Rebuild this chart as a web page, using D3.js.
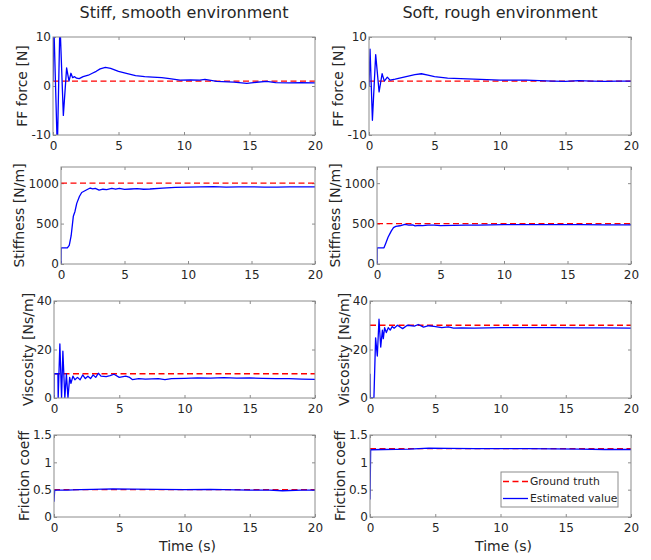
<!DOCTYPE html>
<html>
<head>
<meta charset="utf-8">
<script src="https://cdn.jsdelivr.net/npm/d3@7"></script>
<style>
body { margin: 0; background: #fff; }
text { font-family: "DejaVu Sans", sans-serif; fill: #262626; }
</style>
</head>
<body>
<script>
const width = 651;
const height = 560;

const titles = ['Stiff, smooth environment', 'Soft, rough environment'];
const ylabels = ['FF force [N]', 'Stiffness [N/m]', 'Viscosity [Ns/m]', 'Friction coeff'];
const xlabel = 'Time (s)';
const xDomain = [0, 20];
const xTicks = [0, 5, 10, 15, 20];
const yDomains = [[-10, 10], [0, 1200], [0, 40], [0, 1.5]];
const yTicks = [[-10, 0, 10], [0, 500, 1000], [0, 20, 40], [0, 0.5, 1, 1.5]];
const legendLabels = ['Ground truth', 'Estimated value'];

// ground truth, one per row
const truthStiff = [1, 1000, 10, 0.5];
const truthSoft = [1, 500, 30, 1.25];

// estimated values, [time, value]
const ffStiff = [[0, 1], [0.06, 13], [0.33, -13], [0.53, 13], [0.79, -6], [1.04, 3.7], [1.22, 1.0], [1.37, 2.6],
  [1.5, 1.7], [1.65, 1.9], [1.8, 1.6], [2.0, 1.5], [2.3, 1.9], [2.7, 2.2], [3.0, 2.6], [3.3, 3.0], [3.6, 3.5],
  [4.0, 3.8], [4.4, 3.6], [5.0, 3.0], [5.6, 2.6], [6.3, 2.1], [7.0, 1.9], [7.6, 1.8], [8.3, 1.7], [8.9, 1.5],
  [9.7, 1.2], [10.5, 1.25], [11.2, 1.2], [11.6, 1.35], [12.5, 0.95], [13.8, 0.8], [14.8, 0.55], [15.3, 0.7],
  [16.3, 0.95], [17.0, 0.7], [18.0, 0.65], [18.9, 0.7], [20, 0.65]];
const ffSoft = [[0, 0], [0.08, 7.5], [0.26, -7], [0.51, 6.4], [0.77, -1.2], [1.0, 2.5], [1.17, 1.0], [1.4, 1.8],
  [1.6, 1.2], [2.0, 1.4], [2.5, 1.7], [3.0, 2.0], [3.5, 2.3], [4.0, 2.5], [4.5, 2.2], [5.0, 1.9], [6.0, 1.6],
  [7.0, 1.5], [8.0, 1.4], [9.0, 1.3], [10, 1.2], [11, 1.2], [12, 1.2], [13, 1.1], [14, 1.0], [15, 0.95],
  [16, 1.1], [17, 1.0], [18, 0.95], [19, 1.0], [20, 1.0]];
const stiffStiff = [[0, 0], [0.01, 200], [0.5, 200], [0.65, 230], [0.8, 350], [0.97, 590], [1.1, 650], [1.24, 750],
  [1.45, 835], [1.63, 885], [2.03, 918], [2.3, 940], [2.5, 930], [2.7, 935], [3.0, 915], [3.3, 925], [3.6, 920],
  [4.0, 935], [4.3, 925], [4.6, 935], [5.0, 922], [5.5, 928], [6.0, 932], [6.5, 925], [7.0, 928], [8.0, 938],
  [9.0, 948], [10, 952], [11, 955], [12, 958], [13, 950], [14, 955], [15, 955], [16, 952], [17, 950],
  [18, 955], [19, 955], [20, 955]];
const stiffSoft = [[0, 0], [0.01, 200], [0.55, 200], [0.7, 260], [0.87, 330], [1.13, 410], [1.3, 450], [1.48, 465],
  [1.8, 473], [2.2, 490], [2.5, 482], [2.8, 485], [3.0, 472], [3.3, 478], [3.6, 475], [4.0, 480], [4.5, 482],
  [5.0, 475], [6.0, 478], [7.0, 480], [8.0, 482], [10, 486], [12, 488], [14, 487], [16, 486], [18, 484], [20, 484]];
const viscStiff = [[0, 0], [0.01, 10], [0.3, 10], [0.32, 0], [0.45, 22.3], [0.58, 0], [0.68, 19.3], [0.83, 0],
  [0.95, 10], [1.07, 0], [1.2, 8.5], [1.3, 6], [1.45, 9], [1.6, 7.5], [1.8, 8.5], [2.0, 7.5], [2.2, 9.5],
  [2.4, 8], [2.6, 9], [2.8, 8], [3.0, 9.5], [3.2, 8.5], [3.4, 10.2], [3.6, 9], [4.0, 8.8], [4.3, 9.2],
  [4.6, 9.8], [5.0, 8.5], [5.5, 9], [5.8, 8.5], [6.0, 7.6], [6.5, 8], [7.0, 7.8], [8.0, 8], [8.5, 7.6],
  [9.0, 8], [10, 8.1], [11, 8.3], [12, 8.2], [13, 8.4], [14, 8.2], [15, 8.3], [16, 8.1], [17, 8.0],
  [18, 8.0], [19, 7.8], [20, 7.7]];
const viscSoft = [[0, 10], [0.02, 0], [0.3, 0], [0.43, 24.8], [0.56, 17.3], [0.69, 32.5], [0.82, 21], [0.95, 28],
  [1.02, 24.5], [1.12, 29], [1.25, 27], [1.4, 29], [1.55, 28], [1.7, 29.5], [1.85, 28.8], [2.1, 30], [2.5, 28.6],
  [2.86, 30], [3.4, 29.6], [3.7, 30.3], [4.1, 29.2], [4.5, 29.8], [4.9, 29.5], [5.5, 29], [6.0, 29.3],
  [6.4, 28.8], [7, 28.9], [8, 28.8], [10, 29], [12, 29], [14, 29], [16, 28.9], [18, 28.9], [20, 28.8]];
const fricStiff = [[0, 0.28], [0.05, 0.49], [1, 0.49], [2, 0.5], [3, 0.505], [4.5, 0.515], [6, 0.51], [8, 0.505],
  [10, 0.5], [12, 0.505], [13, 0.5], [15, 0.49], [16.5, 0.49], [17.5, 0.48], [19, 0.49], [20, 0.49]];
const fricSoft = [[0, 0.32], [0.05, 1.23], [1, 1.235], [3, 1.24], [4.5, 1.26], [6, 1.255], [8, 1.25], [10, 1.25],
  [12, 1.25], [14, 1.245], [16, 1.24], [18, 1.235], [20, 1.235]];

const estimates = [[ffStiff, ffSoft], [stiffStiff, stiffSoft], [viscStiff, viscSoft], [fricStiff, fricSoft]];
const truths = [truthStiff, truthSoft];

// axes boxes
const colX = [[53, 315], [369, 631]];
const rowY = [[37, 135], [167, 264], [301, 398], [435, 517]];
const leftShift = [0, 8, 1, 1]; // wide tick labels push the box right

const boxColor = '#8c8c8c';

const svg = d3.select('body').append('svg').attr('width', width).attr('height', height);

const line = (x, y) => d3.line().x(d => x(d[0])).y(d => y(d[1]));

for (let c = 0; c < 2; c++) {
  for (let r = 0; r < 4; r++) {
    const left = colX[c][0] + leftShift[r];
    const right = colX[c][1];
    const top = rowY[r][0];
    const bottom = rowY[r][1];

    const x = d3.scaleLinear().domain(xDomain).range([left, right]);
    const y = d3.scaleLinear().domain(yDomains[r]).range([bottom, top]);

    const clipId = `clip-${c}-${r}`;
    svg.append('clipPath').attr('id', clipId)
      .append('rect').attr('x', left).attr('y', top).attr('width', right - left).attr('height', bottom - top);

    const g = svg.append('g');

    // ticks, inward on all four sides
    const styleAxis = ax => {
      ax.select('.domain').remove();
      ax.selectAll('.tick line').attr('stroke', boxColor);
      ax.selectAll('.tick text').attr('fill', '#262626').style('font-size', '12px').attr('font-family', null);
    };
    g.append('g').attr('transform', `translate(0,${bottom})`)
      .call(d3.axisBottom(x).tickValues(xTicks).tickSize(-3).tickPadding(6).tickFormat(d => String(d)))
      .call(styleAxis);
    g.append('g').attr('transform', `translate(0,${top})`)
      .call(d3.axisTop(x).tickValues(xTicks).tickSize(-3).tickFormat(''))
      .call(styleAxis);
    const yAx = g.append('g').attr('transform', `translate(${left},0)`)
      .call(d3.axisLeft(y).tickValues(yTicks[r]).tickSize(-3).tickPadding(2).tickFormat(d => String(d)))
      .call(styleAxis);
    g.append('g').attr('transform', `translate(${right},0)`)
      .call(d3.axisRight(y).tickValues(yTicks[r]).tickSize(-3).tickFormat(''))
      .call(styleAxis);

    // ground truth then estimate
    g.append('line')
      .attr('clip-path', `url(#${clipId})`)
      .attr('x1', x(xDomain[0])).attr('x2', x(xDomain[1]))
      .attr('y1', y(truths[c][r])).attr('y2', y(truths[c][r]))
      .attr('stroke', '#ff0000').attr('stroke-width', 1.3).attr('stroke-dasharray', '6,3.5');
    g.append('path')
      .datum(estimates[r][c])
      .attr('clip-path', `url(#${clipId})`)
      .attr('fill', 'none')
      .attr('stroke', '#0000ff')
      .attr('stroke-width', 1.3)
      .attr('stroke-linejoin', 'round')
      .attr('d', line(x, y));

    g.append('rect')
      .attr('x', left).attr('y', top).attr('width', right - left).attr('height', bottom - top)
      .attr('fill', 'none').attr('stroke', boxColor).attr('stroke-width', 1);

    // y label just left of the tick labels
    const bb = yAx.node().getBBox();
    g.append('text')
      .attr('transform', `translate(${left + bb.x - 4},${(top + bottom) / 2}) rotate(-90)`)
      .attr('text-anchor', 'middle')
      .style('font-size', '14px')
      .text(ylabels[r]);

    if (r === 0) {
      svg.append('text')
        .attr('x', (colX[c][0] + colX[c][1]) / 2).attr('y', 18)
        .attr('text-anchor', 'middle')
        .style('font-size', '16px')
        .text(titles[c]);
    }
    if (r === 3) {
      svg.append('text')
        .attr('x', (left + right) / 2 + 3).attr('y', 551)
        .attr('text-anchor', 'middle')
        .style('font-size', '14px')
        .text(xlabel);
    }

    if (c === 1 && r === 3) {
      const lw = 117, lh = 35;
      const lg = svg.append('g').attr('transform', `translate(${right - 13 - lw},${bottom - 10 - lh})`);
      lg.append('rect').attr('width', lw).attr('height', lh)
        .attr('fill', '#fff').attr('stroke', boxColor).attr('stroke-width', 1);
      const items = [{color: '#ff0000', dash: '6,3.5'}, {color: '#0000ff', dash: null}];
      items.forEach((it, i) => {
        const yy = 9.5 + i * 17;
        lg.append('line').attr('x1', 2).attr('x2', 27).attr('y1', yy).attr('y2', yy)
          .attr('stroke', it.color).attr('stroke-width', 1.3).attr('stroke-dasharray', it.dash);
        lg.append('text').attr('x', 29).attr('y', yy).attr('dy', '0.35em')
          .style('font-size', '10.8px').text(legendLabels[i]);
      });
    }
  }
}
</script>
</body>
</html>
